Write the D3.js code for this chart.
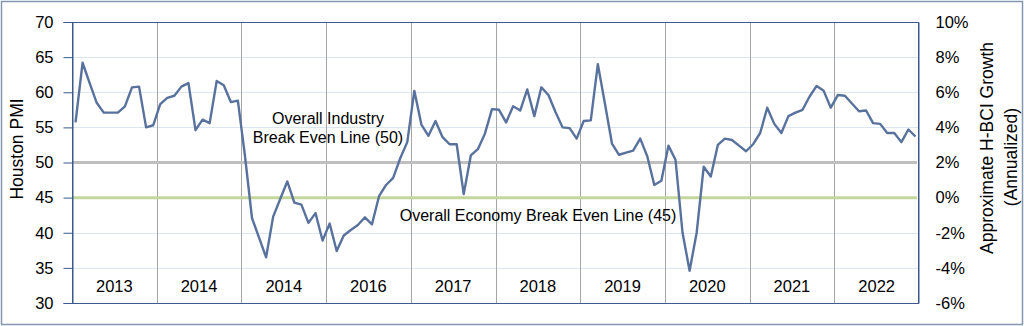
<!DOCTYPE html>
<html><head><meta charset="utf-8">
<script src="https://cdn.jsdelivr.net/npm/d3@7"></script>
<style>
html,body{margin:0;padding:0;background:#fff;}
svg{display:block;font-family:"Liberation Sans",Arial,sans-serif;}
</style></head>
<body><svg id="c" width="1024" height="326"></svg>
<script>
const yearLabels = ["2013","2014","2014","2016","2017","2018","2019","2020","2021","2022"];
const pmi = [
  55.7, 64.2, 61.3, 58.5, 57.1, 57.1, 57.1, 58.0, 60.7, 60.8, 55.0, 55.3,
  58.3, 59.2, 59.5, 60.8, 61.3, 54.6, 56.1, 55.6, 61.6, 61.0, 58.6, 58.8,
  51.0, 42.1, 39.3, 36.5, 42.3, 44.8, 47.3, 44.3, 44.0, 41.4, 42.8, 38.9,
  41.3, 37.4, 39.6, 40.4, 41.1, 42.2, 41.2, 45.2, 46.8, 47.8, 50.6, 52.9,
  60.2, 55.4, 53.8, 55.9, 53.6, 52.6, 52.6, 45.5, 51.0, 51.9, 54.1, 57.6,
  57.5, 55.7, 58.0, 57.4, 60.4, 56.6, 60.7, 59.6, 57.2, 55.0, 54.9, 53.4,
  55.9, 56.0, 64.0, 58.4, 52.7, 51.1, 51.4, 51.7, 53.4, 50.9, 46.8, 47.4,
  52.4, 50.4, 40.0, 34.6, 40.0, 49.4, 48.0, 52.5, 53.4, 53.2, 52.4, 51.6,
  52.6, 54.2, 57.8, 55.5, 54.2, 56.6, 57.1, 57.5, 59.4, 60.9, 60.2, 57.8,
  59.6, 59.5, 58.4, 57.3, 57.4, 55.6, 55.5, 54.2, 54.2, 52.9, 54.7, 53.7
];
const leftTicks = [30,35,40,45,50,55,60,65,70];
const rightTicks = [-6,-4,-2,0,2,4,6,8,10];
const refLines = [
  {value:50, label:["Overall Industry","Break Even Line (50)"], color:"#bfbfbf"},
  {value:45, label:["Overall Economy Break Even Line (45)"], color:"#c4d79b"}
];
const leftTitle = "Houston PMI";
const rightTitle = ["Approximate H-BCI Growth","(Annualized)"];

const svg = d3.select("#c");
const L = 72, R = 919, T = 22, B = 303;
const x = d3.scaleBand().domain(d3.range(pmi.length)).range([L, R]).padding(0);
const y = d3.scaleLinear().domain([30,70]).range([B, T]);
const y2 = d3.scaleLinear().domain([-6,10]).range([B, T]);
const xYear = d3.scaleBand().domain(d3.range(yearLabels.length)).range([L, R]);

// outer border
svg.append("rect").attr("x",1.5).attr("y",1.5).attr("width",1021).attr("height",323)
  .attr("fill","none").attr("stroke","#8497b0").attr("stroke-width",1.5);

// horizontal light gridlines
svg.append("g").selectAll("line").data(leftTicks.filter(v=>v>30&&v<70&&v!==50&&v!==45)).join("line")
  .attr("x1",L).attr("x2",R).attr("y1",d=>Math.round(y(d))+0.5).attr("y2",d=>Math.round(y(d))+0.5)
  .attr("stroke","#dce6f1").attr("stroke-width",1);

// vertical year gridlines
svg.append("g").selectAll("line").data(d3.range(1,yearLabels.length)).join("line")
  .attr("x1",d=>Math.round(xYear(d))+0.5).attr("x2",d=>Math.round(xYear(d))+0.5)
  .attr("y1",T).attr("y2",B).attr("stroke","#a6a6a6").attr("stroke-width",1);

// reference lines
svg.append("g").selectAll("line").data(refLines).join("line")
  .attr("x1",L).attr("x2",R-2).attr("y1",d=>y(d.value)).attr("y2",d=>y(d.value))
  .attr("stroke",d=>d.color).attr("stroke-width",3);

// year labels
svg.append("g").selectAll("text").data(yearLabels).join("text")
  .attr("x",(d,i)=>xYear(i)+xYear.bandwidth()/2).attr("y",286).attr("dy","0.35em")
  .attr("text-anchor","middle").attr("font-size",16.5).attr("fill","#000").text(d=>d);

// annotations
const ann = svg.append("g").attr("font-size",16).attr("fill","#000").attr("text-anchor","middle");
ann.append("text").attr("x",328).attr("y",118).attr("dy","0.35em").text(refLines[0].label[0]);
ann.append("text").attr("x",328).attr("y",137).attr("dy","0.35em").text(refLines[0].label[1]);
ann.append("text").attr("x",538).attr("y",215).attr("dy","0.35em").text(refLines[1].label[0]);

// line
const line = d3.line().x((d,i)=>x(i)+x.bandwidth()/2).y(d=>y(d));
svg.append("path").datum(pmi).attr("d",line).attr("fill","none")
  .attr("stroke","#58719d").attr("stroke-width",2.4).attr("stroke-linejoin","round");

// plot border
svg.append("rect").attr("x",L+0.5).attr("y",T+0.5).attr("width",R-L-1).attr("height",B-T)
  .attr("fill","none").attr("stroke","#3b5b8c").attr("stroke-width",1);

// left axis
const gl = svg.append("g").attr("transform",`translate(${L+0.5},0)`)
  .call(d3.axisLeft(y).tickValues(leftTicks).tickSize(9).tickPadding(10).tickFormat(d3.format("d")));
gl.select(".domain").attr("stroke","#3b5b8c");
gl.selectAll(".tick line").attr("stroke","#3b5b8c");
gl.selectAll("text").attr("font-size",16.5).attr("fill","#000").attr("font-family","Liberation Sans, Arial, sans-serif");

// right axis
const gr = svg.append("g").attr("transform",`translate(${R-0.5},0)`)
  .call(d3.axisRight(y2).tickValues(rightTicks).tickSize(0).tickPadding(17).tickFormat(d=>d+"%"));
gr.select(".domain").attr("stroke","#3b5b8c");
gr.selectAll("text").attr("font-size",16.5).attr("fill","#000").attr("font-family","Liberation Sans, Arial, sans-serif");

// axis titles
svg.append("text").attr("transform","translate(17,149) rotate(-90)").attr("dy","0.35em")
  .attr("text-anchor","middle").attr("font-size",17.5).text(leftTitle);
svg.append("text").attr("transform","translate(987,148) rotate(-90)").attr("dy","0.35em")
  .attr("text-anchor","middle").attr("font-size",17.5).text(rightTitle[0]);
svg.append("text").attr("transform","translate(1011,157) rotate(-90)").attr("dy","0.35em")
  .attr("text-anchor","middle").attr("font-size",17.5).text(rightTitle[1]);
</script></body></html>
